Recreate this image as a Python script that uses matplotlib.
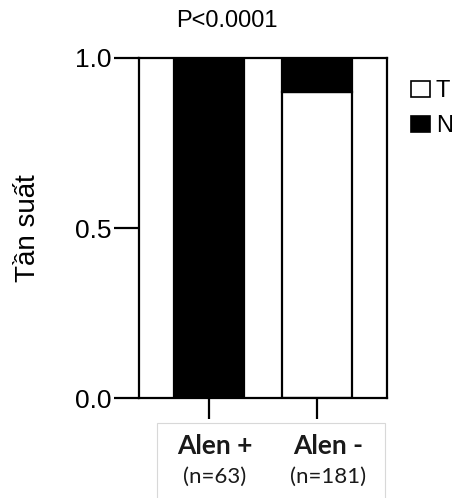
import numpy as np
import matplotlib.pyplot as plt
from matplotlib.patches import Patch, Rectangle

# allele groups and frequency of each genotype class
groups = ['Alen +', 'Alen -']
group_n = ['(n=63)', '(n=181)']
freq_T = [0.0, 0.90]
freq_N = [1.0, 0.10]
p_text = 'P<0.0001'

plt.rcParams['font.family'] = ['Liberation Sans', 'DejaVu Sans']

fig = plt.figure(figsize=(4.57, 4.98), dpi=100)
ax = fig.add_axes([139/457, 1-398/498, 248/457, 340/498])

x = np.arange(len(groups))
w = 0.65
ax.bar(x, freq_T, w, color='white', edgecolor='black', linewidth=1.6)
ax.bar(x, freq_N, w, bottom=freq_T, color='black', edgecolor='black', linewidth=1.6)

ax.set_xlim(-0.648, 1.648)
ax.set_ylim(0, 1)
for s in ax.spines.values():
    s.set_linewidth(1.6)

ax.set_yticks([0.0, 0.5, 1.0])
ax.set_yticklabels(['0.0', '0.5', '1.0'])
ax.tick_params(axis='y', length=18, width=1.6, labelsize=19, pad=2)
ax.set_xticks(x)
ax.set_xticklabels([])
ax.tick_params(axis='x', length=15, width=1.6)
ax.set_ylabel('Tần suất', fontsize=20, labelpad=24)

# group labels sit in a light box under the axis, nudged a little right of the ticks
fig.patches.append(Rectangle((157/457, -0.01), 228/457, 80/498, transform=fig.transFigure,
                             facecolor='white', edgecolor='#d8d8d8', linewidth=0.8,
                             zorder=-1))
label_x = x + np.array([0.05, 0.1])
for xi, g, n in zip(label_x, groups, group_n):
    ax.text(xi, -0.142, g, transform=ax.get_xaxis_transform(), ha='center', va='center',
            fontsize=19, fontweight='bold', family=['Lato', 'DejaVu Sans'], color='#1a1a1a')
    ax.text(xi, -0.232, n, transform=ax.get_xaxis_transform(), ha='center', va='center',
            fontsize=16, family=['Lato', 'DejaVu Sans'], color='#1a1a1a')

fig.text(227/457, 1-21/498, p_text, ha='center', va='center', fontsize=17)

handles = [Patch(facecolor='white', edgecolor='black', linewidth=1.2, label='T'),
           Patch(facecolor='black', edgecolor='black', linewidth=1.2, label='N')]
ax.legend(handles=handles, loc='upper left', bbox_to_anchor=(411/457, 1-80/498),
          bbox_transform=fig.transFigure, frameon=False, fontsize=17,
          handlelength=0.8, handleheight=0.65, handletextpad=0.25,
          labelspacing=0.55, borderpad=0, borderaxespad=0)

fig.savefig('out.png', dpi=100)
